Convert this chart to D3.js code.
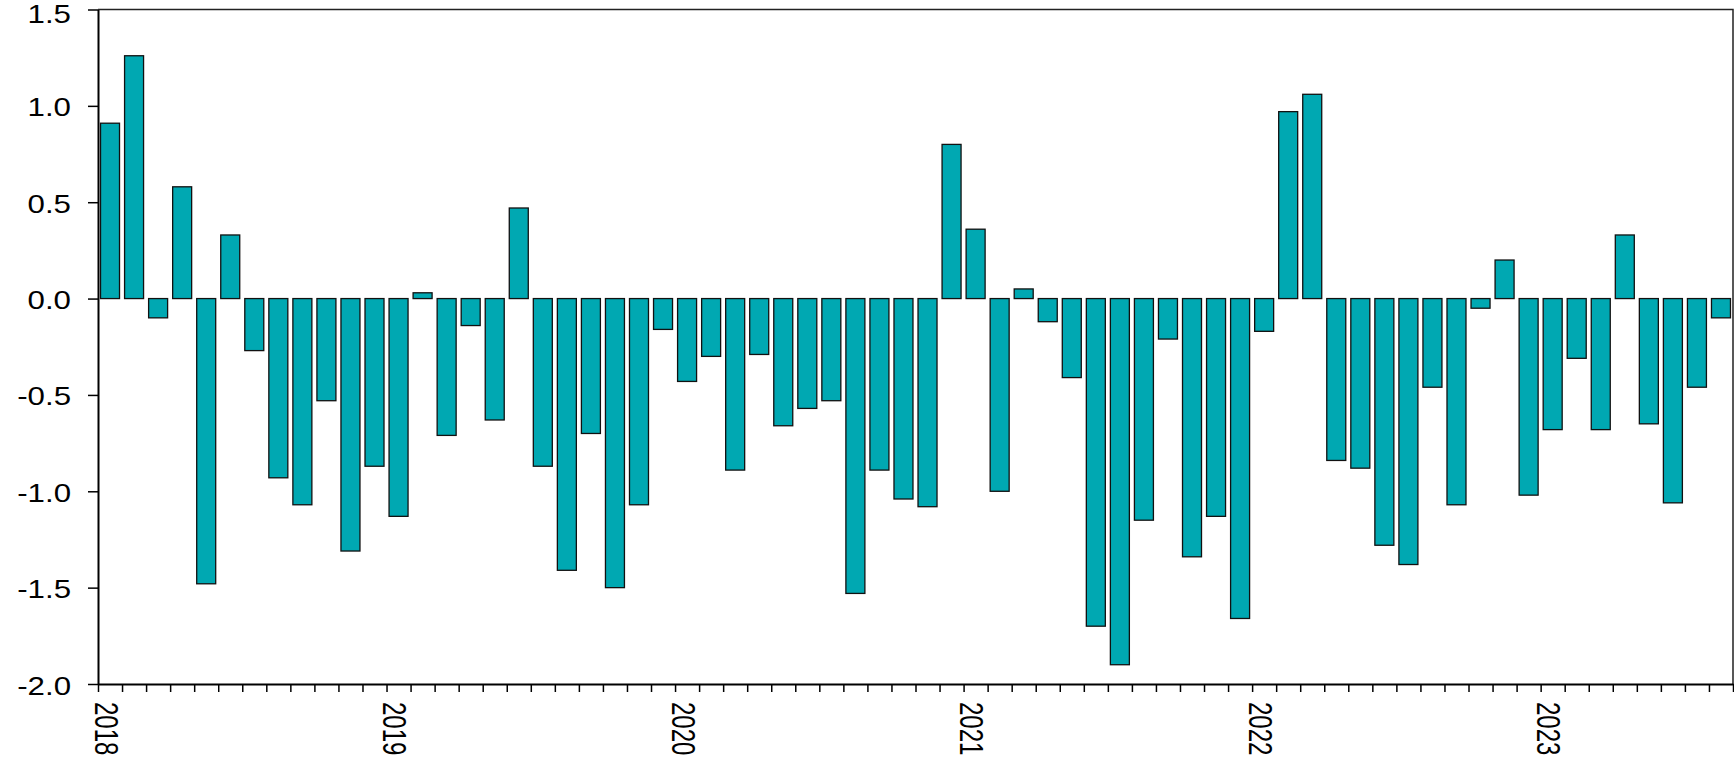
<!DOCTYPE html>
<html>
<head>
<meta charset="utf-8">
<script src="https://cdn.jsdelivr.net/npm/d3@7"></script>
<style>
  html, body { margin: 0; padding: 0; background: #fff; }
  svg { display: block; }
  text { font-family: "Liberation Sans", Arial, sans-serif; fill: #000; }
</style>
</head>
<body>
<svg id="chart" width="1734" height="760"></svg>
<script>
// ---- data ----
const years = ["2018", "2019", "2020", "2021", "2022", "2023"];
const categories = [
  "2018-01","2018-02","2018-03","2018-04","2018-05","2018-06","2018-07","2018-08","2018-09","2018-10","2018-11","2018-12",
  "2019-01","2019-02","2019-03","2019-04","2019-05","2019-06","2019-07","2019-08","2019-09","2019-10","2019-11","2019-12",
  "2020-01","2020-02","2020-03","2020-04","2020-05","2020-06","2020-07","2020-08","2020-09","2020-10","2020-11","2020-12",
  "2021-01","2021-02","2021-03","2021-04","2021-05","2021-06","2021-07","2021-08","2021-09","2021-10","2021-11","2021-12",
  "2022-01","2022-02","2022-03","2022-04","2022-05","2022-06","2022-07","2022-08","2022-09","2022-10","2022-11","2022-12",
  "2023-01","2023-02","2023-03","2023-04","2023-05","2023-06","2023-07","2023-08"
];
const values = [
  0.91, 1.26, -0.10, 0.58, -1.48, 0.33, -0.27, -0.93, -1.07, -0.53, -1.31, -0.87,
  -1.13, 0.03, -0.71, -0.14, -0.63, 0.47, -0.87, -1.41, -0.70, -1.50, -1.07, -0.16,
  -0.43, -0.30, -0.89, -0.29, -0.66, -0.57, -0.53, -1.53, -0.89, -1.04, -1.08, 0.80,
  0.36, -1.00, 0.05, -0.12, -0.41, -1.70, -1.90, -1.15, -0.21, -1.34, -1.13, -1.66,
  -0.17, 0.97, 1.06, -0.84, -0.88, -1.28, -1.38, -0.46, -1.07, -0.05, 0.20, -1.02,
  -0.68, -0.31, -0.68, 0.33, -0.65, -1.06, -0.46, -0.10
];
const yTicks = [-2.0, -1.5, -1.0, -0.5, 0.0, 0.5, 1.0, 1.5];

// ---- layout ----
const mLeft = 98, mRight = 1733, mTop = 9.5, mBottom = 684;
const labelSize = 25;
const svg = d3.select("#chart");

const x = d3.scaleBand()
  .domain(categories)
  .range([mLeft, mRight])
  .paddingInner(0.21)
  .paddingOuter(0.105);

const xi = d3.scaleLinear().domain([0, categories.length]).range([mLeft, mRight]);

const y = d3.scaleLinear().domain([-2, 1.5]).range([mBottom, mTop]);

const fmt = d3.formatLocale({decimal: ".", thousands: ",", grouping: [3], currency: ["", ""], minus: "-"}).format(".1f");

// frame (top and right)
svg.append("path")
  .attr("d", `M${mLeft},${mTop}H${mRight}V${mBottom}`)
  .attr("fill", "none")
  .attr("stroke", "#222")
  .attr("stroke-width", 1.5);

// bars
svg.append("g")
  .selectAll("rect")
  .data(values)
  .join("rect")
  .attr("x", (d, i) => x(categories[i]))
  .attr("width", x.bandwidth())
  .attr("y", d => y(Math.max(0, d)))
  .attr("height", d => Math.abs(y(d) - y(0)))
  .attr("fill", "#00A8B2")
  .attr("stroke", "#111")
  .attr("stroke-width", 1.3);

// y axis
const gy = svg.append("g")
  .attr("transform", `translate(${mLeft},0)`)
  .call(d3.axisLeft(y).tickValues(yTicks).tickSize(10).tickSizeOuter(0).tickFormat(""));
gy.select(".domain").attr("stroke", "#000").attr("stroke-width", 2);
gy.selectAll(".tick line").attr("stroke", "#000").attr("stroke-width", 1.5);

// y labels: baseline kept inside the picture for the top one
svg.append("g")
  .selectAll("text")
  .data(yTicks)
  .join("text")
  .attr("transform", d => `translate(71,${Math.max(y(d) + 0.42 * labelSize, 0.91 * labelSize)}) scale(1.25,1)`)
  .attr("text-anchor", "end")
  .attr("font-size", labelSize)
  .text(d => fmt(d));

// x axis
const gx = svg.append("g")
  .attr("transform", `translate(0,${mBottom})`)
  .call(d3.axisBottom(xi).tickValues(d3.range(categories.length + 1)).tickSize(8).tickSizeOuter(0).tickFormat(""));
gx.select(".domain").attr("stroke", "#000").attr("stroke-width", 2);
gx.selectAll(".tick line").attr("stroke", "#000").attr("stroke-width", 1.5);

// year labels (rotated)
svg.append("g")
  .selectAll("text")
  .data(years)
  .join("text")
  .attr("transform", (d, i) => `translate(${xi(i * 12) - 3.5},702) rotate(90) scale(1,1.4)`)
  .attr("text-anchor", "start")
  .attr("font-size", 24)
  .text(d => d);
</script>
</body>
</html>
